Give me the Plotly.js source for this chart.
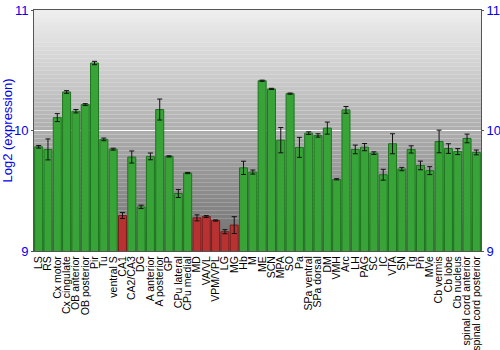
<!DOCTYPE html>
<html><head><meta charset="utf-8">
<script src="https://cdn.plot.ly/plotly-3.0.1.min.js"></script>
<style>html,body{margin:0;padding:0;background:#fff}#chart{width:500px;height:350px}</style>
</head><body><div id="chart"></div>
<script>
const categories = ["LS","RS","Cx motor","Cx cingulate","OB anterior","OB posterior","Pir","Tu","ventral S","CA1","CA2/CA3","DG","A anterior","A posterior","GP","CPu lateral","CPu medial","MD","VA/VL","VPM/VPL","LG","MG","Hb","M","ME","SCN","MPA","SO","Pa","SPa ventral","SPa dorsal","DM","VMH","Arc","LH","PAG","SC","IC","VTA","SN","Tg","Pn","MVe","Cb vermis","Cb lobe","Cb nucleus","spinal cord anterior","spinal cord posterior"];
const values = [9.865,9.843,10.107,10.32,10.16,10.215,10.56,9.926,9.845,9.295,9.78,9.366,9.785,10.174,9.785,9.477,9.647,9.275,9.286,9.253,9.16,9.215,9.69,9.655,10.413,10.345,9.92,10.306,9.86,9.978,9.959,10.02,9.595,10.171,9.843,9.862,9.812,9.633,9.89,9.68,9.843,9.71,9.667,9.909,9.85,9.825,9.934,9.818];
const errors = [0.011,0.087,0.033,0.011,0.014,0.008,0.014,0.011,0.008,0.025,0.05,0.014,0.028,0.087,0.005,0.033,0.005,0.025,0.008,0.005,0.017,0.07,0.055,0.017,0.005,0.005,0.105,0.005,0.083,0.011,0.014,0.05,0.005,0.028,0.036,0.03,0.011,0.045,0.083,0.014,0.03,0.036,0.033,0.094,0.04,0.025,0.036,0.02];
const lowRegions = ["CA1","MD","VA/VL","VPM/VPL","LG","MG"];
const yTicks = [9,10,11];

const fillColors = categories.map(c => lowRegions.includes(c) ? "#b83232" : "#38a438");
const lineColors = categories.map(c => lowRegions.includes(c) ? "#7a1c1c" : "#1f7320");

// background gradient strips
const shapes = [];
const N = 60;
for (let i = 0; i < N; i++) {
  const t = i / (N - 1);
  const v = Math.round(238 - t * (238 - 110));
  shapes.push({type:"rect", xref:"paper", yref:"paper", x0:0, x1:1, y0:1 - (i+1)/N, y1:1 - i/N,
    fillcolor:`rgb(${v},${v},${v})`, line:{width:0}, layer:"below"});
}

const traces = [
  {type:"bar", x:categories, y:values, marker:{color:fillColors, line:{color:lineColors, width:1}},
   error_y:{type:"data", array:errors, color:"#111", thickness:1, width:2.5}, hoverinfo:"x+y"},
  {type:"scatter", mode:"lines", x:categories, y:values, yaxis:"y2", line:{width:0, color:"rgba(0,0,0,0)"}, hoverinfo:"skip", showlegend:false}
];

const layout = {
  width:500, height:350,
  margin:{l:34, r:19, t:10, b:99, pad:0},
  paper_bgcolor:"#ffffff", plot_bgcolor:"rgba(0,0,0,0)",
  showlegend:false, bargap:0.14,
  shapes: shapes,
  font:{family:"Liberation Sans, Arial, sans-serif"},
  xaxis:{type:"category", range:[-0.5, categories.length - 0.5], tickmode:"array", tickvals:categories,
    tickangle:-90, tickfont:{size:10.5, color:"#000"}, showgrid:false,
    showline:true, linecolor:"#555", linewidth:1, mirror:true, ticks:"", automargin:false},
  yaxis:{range:[9,11], tickvals:yTicks, ticktext:yTicks.map(String), tickfont:{size:13, color:"#0000ee"},
    title:{text:"Log2 (expression)", font:{size:13, color:"#0000ee"}, standoff:2},
    showgrid:true, gridcolor:"#ffffff", gridwidth:1.5, zeroline:false,
    ticks:"outside", ticklen:2, tickcolor:"#555", showline:true, linecolor:"#555", automargin:false},
  yaxis2:{range:[9,11], overlaying:"y", side:"right", tickvals:yTicks, ticktext:yTicks.map(String),
    tickfont:{size:13, color:"#0000ee"}, showgrid:false, zeroline:false,
    ticks:"outside", ticklen:2, tickcolor:"#555", showline:true, linecolor:"#555", automargin:false}
};

Plotly.newPlot("chart", traces, layout, {displayModeBar:false, staticPlot:true});
</script></body></html>
